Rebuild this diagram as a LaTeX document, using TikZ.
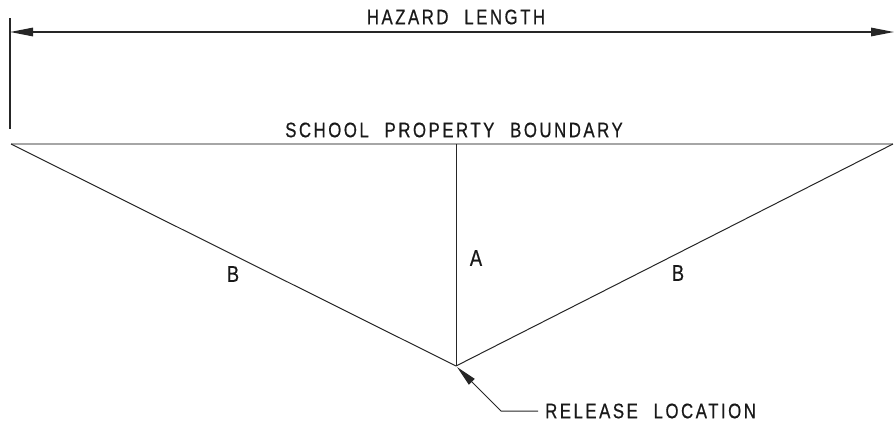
\documentclass[tikz,border=0pt]{standalone}
\usepackage{fontspec}
\newfontfamily\cad[FakeStretch=0.8,LetterSpace=12,WordSpace=2.2,FakeBold=0.6]{Liberation Sans}
\usetikzlibrary{arrows.meta}
\begin{document}
\begin{tikzpicture}[x=1pt,y=-1pt,
  line/.style={draw=black!85,line width=1pt},
  bound/.style={draw=black!35,line width=2pt},
  lbl/.style={font=\cad\fontsize{21}{21}\selectfont,inner sep=0pt,text=black!90},
  big/.style={font=\cad\fontsize{23}{23}\selectfont}]
\useasboundingbox (0,0) rectangle (894,423);
% key points
\coordinate (TL) at (11,144);
\coordinate (TR) at (893,144);
\coordinate (TM) at (456,144);
\coordinate (R) at (456,366);
\coordinate (EL) at (10,18);
\coordinate (EL2) at (10,129);
\coordinate (HL) at (10,32);
\coordinate (HR) at (894,32);
\coordinate (K) at (501,411);
\coordinate (K2) at (538,411);
% extension line
\draw[line,line width=1.2pt] (EL) -- (EL2);
% hazard length dimension
\draw[line,line width=1.4pt,{Triangle[length=23pt,width=8.5pt]}-{Triangle[length=23pt,width=8.5pt]}] (HL) -- (HR);
\node[lbl] (hz) at (456,17) {HAZARD LENGTH};
% boundary
\draw[bound] (TL) -- (TR);
\node[lbl] (sb) at (454,130) {SCHOOL PROPERTY BOUNDARY};
% triangle lines
\draw[line] (TL) -- (R);
\draw[line] (TR) -- (R);
\draw[line] (TM) -- (R);
\node[lbl,big] (a) at (476,258) {A};
\node[lbl,big] (b1) at (233,274) {B};
\node[lbl,big] (b2) at (678,273) {B};
% release location leader
\draw[line,{Triangle[length=21pt,width=8pt]}-] ([shift={(1,1)}]R) -- (K) -- (K2);
\node[lbl,anchor=west] (rl) at (545,411) {RELEASE LOCATION};
\end{tikzpicture}
\end{document}
